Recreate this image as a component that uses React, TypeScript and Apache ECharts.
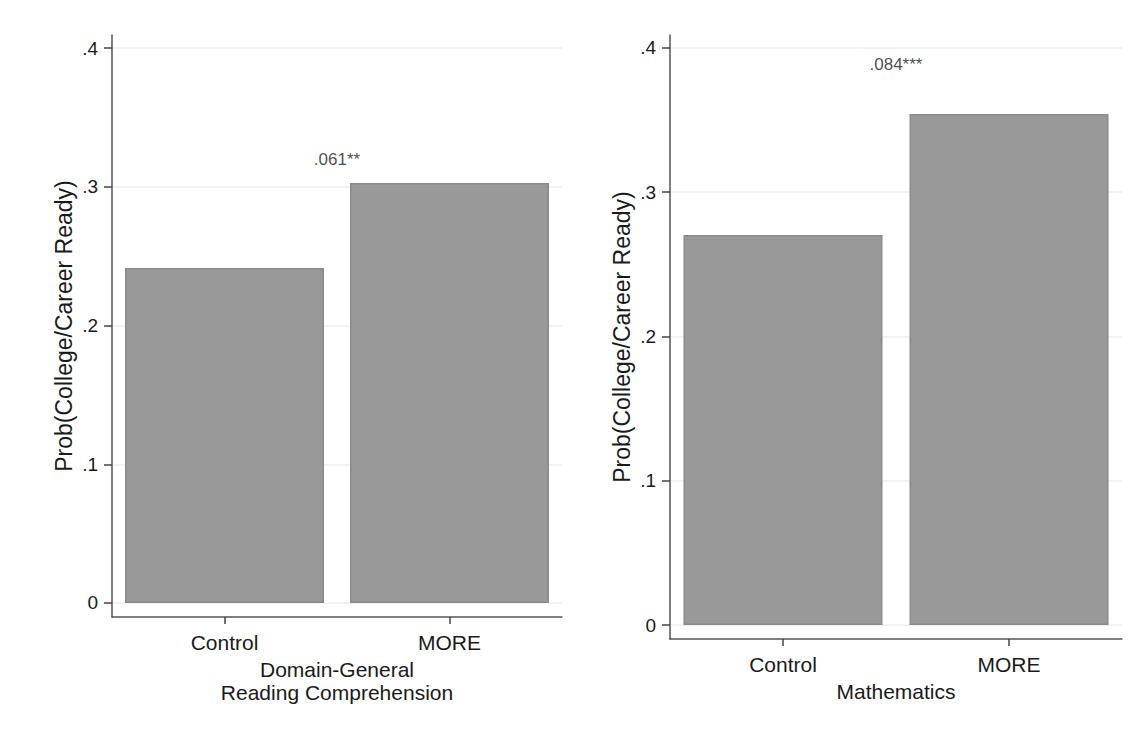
import React, { useEffect, useRef } from "react";
import * as echarts from "echarts";

const categories = ["Control", "MORE"];
const readingValues = [0.2415, 0.3027];
const mathValues = [0.2704, 0.3542];
const tickValues = [0, 0.1, 0.2, 0.3, 0.4];
const readingAnnotation = ".061**";
const readingAnnotationY = 0.3195;
const mathAnnotation = ".084***";
const mathAnnotationY = 0.3885;
const readingTitle = "Domain-General\nReading Comprehension";
const mathTitle = "Mathematics";
const yTitle = "Prob(College/Career Ready)";

const FONT = "'Liberation Sans', Arial, sans-serif";
const TEXT = "#1a1a1a";
const AXIS = "#555555";
const GRID = "#e8f0f2";

function fmt(v: number) {
  if (Math.abs(v) < 1e-9) return "0";
  return v.toFixed(1).replace(/^0\./, ".");
}

export default function App() {
  const ref = useRef<HTMLDivElement>(null);
  useEffect(() => {
    document.body.style.margin = "0";
    const chart = echarts.init(ref.current!, undefined, { renderer: "svg" });
    const yAxisBase = (idx: number, min: number, max: number) => ({
      type: "value",
      gridIndex: idx,
      min,
      max,
      name: yTitle,
      nameLocation: "middle",
      nameGap: 37,
      nameTextStyle: { fontFamily: FONT, fontSize: 23, color: TEXT },
      axisLine: { show: true, onZero: false, lineStyle: { color: AXIS, width: 1.5 } },
      axisTick: {
        show: true,
        length: 8,
        customValues: tickValues,
        lineStyle: { color: "#444444", width: 1.5 },
      },
      axisLabel: {
        customValues: tickValues,
        formatter: (v: number) => fmt(v),
        fontFamily: FONT,
        fontSize: 19,
        color: TEXT,
        margin: 14,
      },
      splitLine: { show: true, lineStyle: { color: GRID, width: 1.5 } },
    });
    const xCat = (idx: number, title: string) => ({
      type: "category",
      gridIndex: idx,
      data: categories,
      name: title,
      nameLocation: "middle",
      nameGap: 33,
      nameTextStyle: {
        fontFamily: FONT,
        fontSize: 21,
        color: TEXT,
        lineHeight: 23,
        verticalAlign: "top",
      },
      axisLine: { show: true, onZero: false, lineStyle: { color: AXIS, width: 1.5 } },
      axisTick: {
        show: true,
        alignWithLabel: true,
        length: 7,
        lineStyle: { color: "#444444", width: 1.5 },
      },
      axisLabel: { fontFamily: FONT, fontSize: 21, color: TEXT, margin: 15 },
      splitLine: { show: false },
    });
    const xHidden = (idx: number) => ({
      type: "value",
      gridIndex: idx,
      min: -0.5,
      max: 1.5,
      show: false,
      axisLine: { onZero: false },
    });
    const barSeries = (idx: number, data: number[]) => ({
      type: "bar",
      xAxisIndex: idx,
      yAxisIndex: idx,
      data,
      barWidth: 199,
      itemStyle: { color: "#999999", borderColor: "#8a8a8a", borderWidth: 1.5 },
      z: 2,
    });
    const annot = (idx: number, text: string, y: number) => ({
      type: "scatter",
      xAxisIndex: idx + 2,
      yAxisIndex: idx,
      data: [[0.5, y]],
      symbolSize: 1,
      itemStyle: { color: "rgba(0,0,0,0)" },
      label: {
        show: true,
        position: "inside",
        formatter: () => text,
        fontFamily: FONT,
        fontSize: 17,
        color: TEXT,
      },
      z: 3,
    });
    chart.setOption({
      animation: false,
      backgroundColor: "#ffffff",
      grid: [
        { left: 112, top: 35, width: 450, height: 582 },
        { left: 670, top: 35, width: 452, height: 604 },
      ],
      xAxis: [xCat(0, readingTitle), xCat(1, mathTitle), xHidden(0), xHidden(1)],
      yAxis: [yAxisBase(0, -0.0101, 0.4094), yAxisBase(1, -0.0097, 0.409)],
      series: [
        barSeries(0, readingValues),
        barSeries(1, mathValues),
        annot(0, readingAnnotation, readingAnnotationY),
        annot(1, mathAnnotation, mathAnnotationY),
      ],
    });
    return () => chart.dispose();
  }, []);
  return <div ref={ref} style={{ width: 1146, height: 736 }} />;
}
